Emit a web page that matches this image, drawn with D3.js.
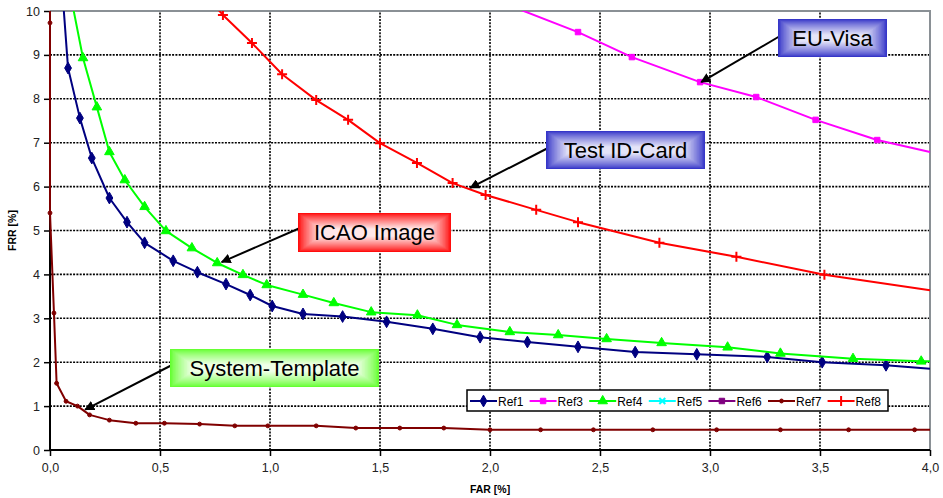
<!DOCTYPE html>
<html lang="en">
<head>
<meta charset="UTF-8">
<title>FAR / FRR</title>
<script src="https://d3js.org/d3.v7.min.js"></script>
<style>
  body { margin: 0; background: #fff; }
  svg { display: block; font-family: Arial, "Liberation Sans", sans-serif; }
</style>
</head>
<body>
<svg width="943" height="498"></svg>
<script>
// series values: [FAR %, FRR %]
const ref1 = [[0.06, 10.2], [0.082, 8.70], [0.136, 7.56], [0.19, 6.65], [0.27, 5.74], [0.35, 5.19],
  [0.43, 4.72], [0.56, 4.31], [0.67, 4.05], [0.80, 3.78], [0.91, 3.53], [1.01, 3.28], [1.15, 3.10],
  [1.33, 3.04], [1.53, 2.92], [1.74, 2.76], [1.955, 2.57], [2.17, 2.46], [2.40, 2.35], [2.66, 2.23],
  [2.94, 2.18], [3.26, 2.12], [3.51, 2.00], [3.80, 1.93], [4.0, 1.85]];
const ref3 = [[2.05, 10.2], [2.40, 9.52], [2.645, 8.95], [2.955, 8.38], [3.21, 8.04], [3.48, 7.52],
  [3.76, 7.06], [4.0, 6.79]];
const ref4 = [[0.10, 10.2], [0.15, 8.93], [0.213, 7.81], [0.27, 6.79], [0.34, 6.15], [0.43, 5.54],
  [0.527, 4.99], [0.645, 4.60], [0.76, 4.26], [0.877, 3.99], [0.985, 3.76], [1.15, 3.54], [1.29, 3.35],
  [1.46, 3.14], [1.67, 3.07], [1.85, 2.85], [2.09, 2.69], [2.31, 2.62], [2.53, 2.53], [2.78, 2.44],
  [3.08, 2.34], [3.32, 2.20], [3.65, 2.08], [3.96, 2.02], [4.0, 2.02]];
const ref5 = [];
const ref6 = [];
const ref7 = [[0.0, 10.5], [0.0, 9.73], [0.0, 5.4], [0.018, 3.12], [0.03, 1.52], [0.073, 1.11],
  [0.125, 1.0], [0.18, 0.80], [0.27, 0.68], [0.39, 0.61], [0.52, 0.61], [0.68, 0.59], [0.84, 0.55],
  [0.99, 0.55], [1.21, 0.55], [1.39, 0.50], [1.59, 0.50], [1.79, 0.50], [2.0, 0.46], [2.23, 0.46],
  [2.47, 0.46], [2.74, 0.46], [3.03, 0.46], [3.32, 0.46], [3.63, 0.46], [3.93, 0.46], [4.0, 0.46]];
const ref8 = [[0.70, 10.4], [0.786, 9.91], [0.918, 9.27], [1.055, 8.56], [1.21, 7.97], [1.355, 7.52],
  [1.50, 6.99], [1.668, 6.54], [1.83, 6.08], [1.98, 5.81], [2.21, 5.47], [2.40, 5.19], [2.77, 4.72],
  [3.12, 4.40], [3.52, 3.99], [4.0, 3.64]];

const xTicks = [0, 0.5, 1, 1.5, 2, 2.5, 3, 3.5, 4];
const yTicks = [0, 1, 2, 3, 4, 5, 6, 7, 8, 9, 10];

// thin plus / x markers drawn as strokes
const plusSym = { draw(ctx, size) { const r = Math.sqrt(size) / 2; ctx.moveTo(-r, 0); ctx.lineTo(r, 0); ctx.moveTo(0, -r); ctx.lineTo(0, r); } };
const xSym = { draw(ctx, size) { const r = Math.sqrt(size) / 2.6; ctx.moveTo(-r, -r); ctx.lineTo(r, r); ctx.moveTo(-r, r); ctx.lineTo(r, -r); } };

const series = [
  { name: "Ref1", data: ref1, color: "#000080", symbol: d3.symbolDiamond, size: 40, stroked: false },
  { name: "Ref3", data: ref3, color: "#ff00ff", symbol: d3.symbolSquare, size: 30, stroked: false },
  { name: "Ref4", data: ref4, color: "#00ff00", symbol: d3.symbolTriangle, size: 40, stroked: false },
  { name: "Ref5", data: ref5, color: "#00ffff", symbol: xSym, size: 60, stroked: true },
  { name: "Ref6", data: ref6, color: "#800080", symbol: d3.symbolSquare, size: 30, stroked: false },
  { name: "Ref7", data: ref7, color: "#800000", symbol: d3.symbolCircle, size: 12, stroked: false },
  { name: "Ref8", data: ref8, color: "#ff0000", symbol: plusSym, size: 100, stroked: true }
];

// callouts: text, box, arrow tip in data coords
const callouts = [
  { text: "EU-Visa", box: [778, 19, 109, 38], from: [780, 36], tip: [2.96, 8.38], edge: "#3636c8", mid: "#e4e4f8" },
  { text: "Test ID-Card", box: [546, 131, 159, 38], from: [548, 148], tip: [1.91, 5.97], edge: "#3636c8", mid: "#e4e4f8" },
  { text: "ICAO Image", box: [298, 213, 153, 39], from: [300, 228], tip: [0.78, 4.28], edge: "#ff0d0d", mid: "#ffe8e8" },
  { text: "System-Template", box: [170, 349, 209, 38], from: [172, 365], tip: [0.16, 0.92], edge: "#66ff33", mid: "#f0ffe8" }
];

const svg = d3.select("svg");
const margin = { top: 11, right: 13, bottom: 48, left: 50 };
const W = 943, H = 498;

const x = d3.scaleLinear().domain([0, 4]).range([margin.left, W - margin.right]);
const y = d3.scaleLinear().domain([0, 10]).range([H - margin.bottom, margin.top]);
const fmt = d => d3.format(".1f")(d).replace(".", ",");

svg.append("defs").append("clipPath").attr("id", "plot")
  .append("rect")
  .attr("x", x(0) - 3).attr("y", y(10))
  .attr("width", x(4) - x(0) + 6).attr("height", y(0) - y(10));

// grid
const grid = svg.append("g");
grid.selectAll(".gx").data(xTicks.filter(d => d > 0 && d < 4)).enter().append("line")
  .attr("x1", d => x(d)).attr("x2", d => x(d)).attr("y1", y(0)).attr("y2", y(10))
  .attr("stroke", "#000").attr("stroke-width", 1.6).attr("stroke-dasharray", "2,1.3");
grid.selectAll(".gy").data(yTicks.filter(d => d > 0 && d < 10)).enter().append("line")
  .attr("x1", x(0)).attr("x2", x(4)).attr("y1", d => y(d)).attr("y2", d => y(d))
  .attr("stroke", "#000").attr("stroke-width", 1.6).attr("stroke-dasharray", "2,1.3");

// grey frame top / right
svg.append("path")
  .attr("d", `M${x(0)},${y(10)}H${x(4)}V${y(0)}`)
  .attr("fill", "none").attr("stroke", "#8a9095").attr("stroke-width", 2);

// axes
const xAxis = svg.append("g").attr("transform", `translate(0,${y(0)})`)
  .call(d3.axisBottom(x).tickValues(xTicks).tickFormat(fmt).tickSize(6).tickPadding(7));
const yAxis = svg.append("g").attr("transform", `translate(${x(0)},0)`)
  .call(d3.axisLeft(y).tickValues(yTicks).tickSize(6).tickPadding(4));
[xAxis, yAxis].forEach(a => {
  a.select(".domain").attr("stroke", "#000").attr("stroke-width", 2);
  a.selectAll(".tick line").attr("stroke", "#000").attr("stroke-width", 1.5);
  a.selectAll("text").attr("font-size", 12.5).attr("fill", "#222").attr("font-family", "Arial, 'Liberation Sans', sans-serif");
});
xAxis.select(".domain").attr("d", `M${x(0)},0H${x(4)}`);
yAxis.select(".domain").attr("d", `M0,${y(0)}V${y(10)}`);

svg.append("text").attr("x", (x(0) + x(4)) / 2).attr("y", 493)
  .attr("text-anchor", "middle").attr("font-size", 10.5).attr("font-weight", "bold").text("FAR [%]");
svg.append("text").attr("transform", `translate(16,${(y(0) + y(10)) / 2}) rotate(-90)`)
  .attr("text-anchor", "middle").attr("font-size", 10.5).attr("font-weight", "bold").text("FRR [%]");

// curves
const line = d3.line().x(d => x(d[0])).y(d => y(d[1]));
const plot = svg.append("g").attr("clip-path", "url(#plot)");
function marker(sel, s) {
  sel.attr("d", d3.symbol().type(s.symbol).size(s.size))
    .attr("fill", s.stroked ? "none" : s.color)
    .attr("stroke", s.color).attr("stroke-width", s.stroked ? 2 : 1);
}
series.forEach(s => {
  if (!s.data.length) return;
  plot.append("path").datum(s.data)
    .attr("d", line).attr("fill", "none")
    .attr("stroke", s.color).attr("stroke-width", 2).attr("stroke-linejoin", "round");
  const pts = s.data.filter(d => d[1] <= 10 && d[0] < 4);
  plot.selectAll(null).data(pts).enter().append("path")
    .attr("transform", d => `translate(${x(d[0])},${y(d[1])})`)
    .call(marker, s);
});

// legend
const lg = svg.append("g");
lg.append("rect").attr("x", 467).attr("y", 390).attr("width", 421).attr("height", 21)
  .attr("fill", "#fff").attr("stroke", "#000").attr("stroke-width", 1.5);
series.forEach((s, i) => {
  const lx = 470 + i * 59.6;
  lg.append("line").attr("x1", lx).attr("x2", lx + 27).attr("y1", 401).attr("y2", 401)
    .attr("stroke", s.color).attr("stroke-width", 2);
  lg.append("path").attr("transform", `translate(${lx + 13.5},401)`).call(marker, s);
  lg.append("text").attr("x", lx + 28).attr("y", 405.5).attr("font-size", 12).attr("fill", "#000").text(s.name);
});

// callout boxes with "from centre" gradient made of nested rectangles
svg.append("defs").append("marker").attr("id", "arrow")
  .attr("viewBox", "0 0 10 10").attr("refX", 9).attr("refY", 5)
  .attr("markerWidth", 5).attr("markerHeight", 5).attr("orient", "auto")
  .append("path").attr("d", "M0,0L10,5L0,10Z").attr("fill", "#000");

callouts.forEach(c => {
  const [bx, by, bw, bh] = c.box;
  const g = svg.append("g");
  g.append("line")
    .attr("x1", c.from[0]).attr("y1", c.from[1])
    .attr("x2", x(c.tip[0])).attr("y2", y(c.tip[1]))
    .attr("stroke", "#000").attr("stroke-width", 2).attr("marker-end", "url(#arrow)");
  const steps = 14;
  const col = d3.interpolateRgb(c.edge, c.mid);
  for (let k = 0; k <= steps; k++) {
    const t = k / steps;
    const inset = k * 1.1;
    if (bh - 2 * inset <= 0) break;
    g.append("rect")
      .attr("x", bx + inset * 1.4).attr("y", by + inset)
      .attr("width", bw - 2.8 * inset).attr("height", bh - 2 * inset)
      .attr("fill", col(Math.pow(t, 0.8)));
  }
  g.append("text").attr("x", bx + bw / 2).attr("y", by + bh / 2 + 7.5)
    .attr("text-anchor", "middle").attr("font-size", 22).attr("fill", "#000").text(c.text);
});
</script>
</body>
</html>
